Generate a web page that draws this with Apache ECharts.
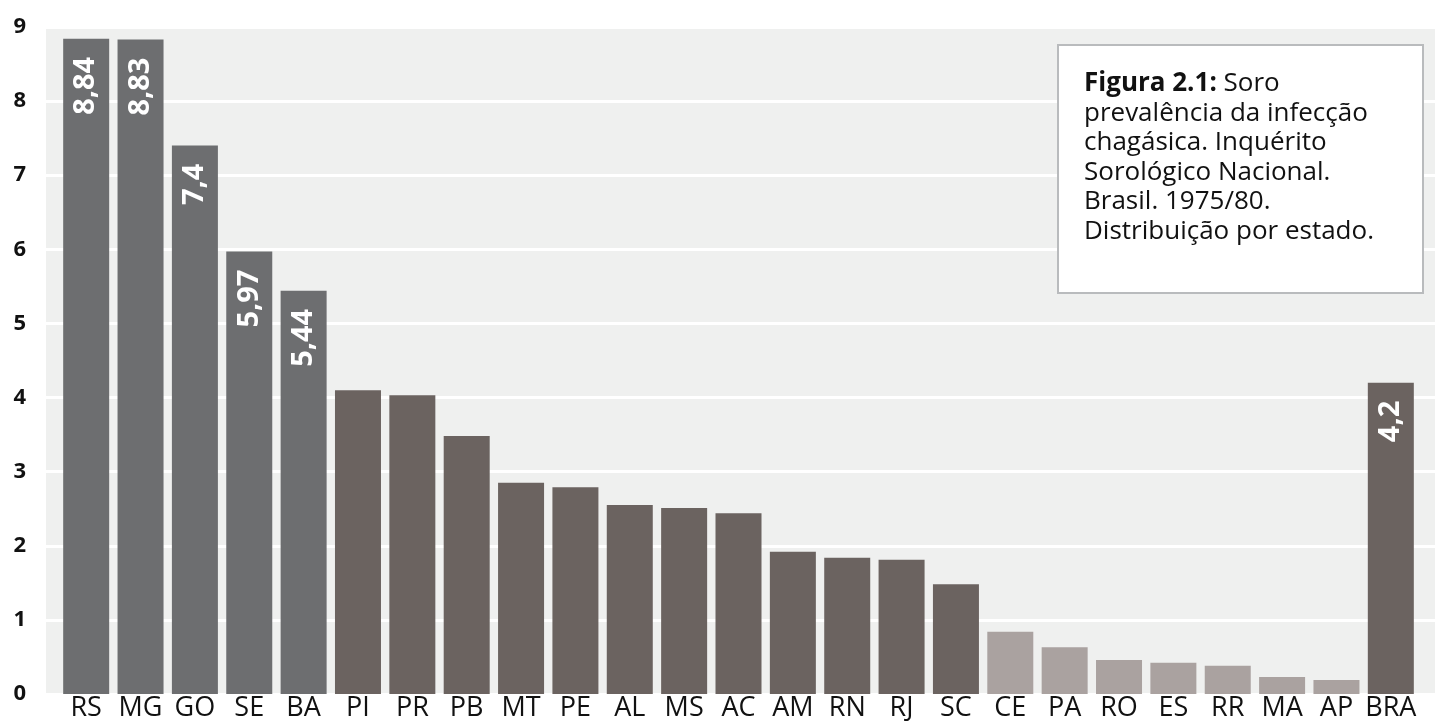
<!DOCTYPE html>
<html>
<head>
<meta charset="utf-8">
<script src="https://cdn.jsdelivr.net/npm/echarts@6/dist/echarts.min.js"></script>
<style>
html,body{margin:0;padding:0;background:#fff;}
#chart{width:1435px;height:726px;}
</style>
</head>
<body>
<div id="chart"></div>
<script>
// ---- data ----
const categories = ['RS','MG','GO','SE','BA','PI','PR','PB','MT','PE','AL','MS','AC','AM','RN','RJ','SC','CE','PA','RO','ES','RR','MA','AP','BRA'];
const values = [8.84,8.83,7.4,5.97,5.44,4.10,4.03,3.48,2.85,2.79,2.55,2.51,2.44,1.92,1.84,1.81,1.48,0.84,0.63,0.46,0.42,0.38,0.23,0.19,4.2];
const highGroup = ['RS','MG','GO','SE','BA'];
const lowGroup = ['CE','PA','RO','ES','RR','MA','AP'];
const labeledCategories = ['RS','MG','GO','SE','BA','BRA'];
const yTicks = [0,1,2,3,4,5,6,7,8,9];
const captionBold = 'Figura 2.1:';
const captionLines = [' Soro','prevalência da infecção','chagásica. Inquérito','Sorológico Nacional.','Brasil. 1975/80.','Distribuição por estado.'];

const FONT = '"Open Sans", "Noto Sans", sans-serif';
const colorHigh = '#6d6e70', colorMid = '#6b6360', colorLow = '#aaa2a0';

const seriesData = categories.map((c, i) => ({
  value: values[i],
  itemStyle: { color: highGroup.includes(c) ? colorHigh : (lowGroup.includes(c) ? colorLow : colorMid) },
  label: { show: labeledCategories.includes(c) }
}));

const captionRich = '{b|' + captionBold + '}' + captionLines.map(l => '{n|' + l + '}').join('\n');

const chart = echarts.init(document.getElementById('chart'));
chart.setOption({
  animation: false,
  grid: [
    { left: 59, right: 17, top: 27, bottom: 32 },
    { left: 46, right: 0, top: 27, bottom: 32, show: true, backgroundColor: '#eff0ef', borderWidth: 0 }
  ],
  xAxis: [
    { type: 'category', gridIndex: 0, data: categories,
      axisLine: { show: false }, axisTick: { show: false },
      axisLabel: { color: '#111', fontSize: 27, fontFamily: FONT, margin: 1, interval: 0 } },
    { type: 'category', gridIndex: 1, data: categories, show: false }
  ],
  yAxis: [
    { type: 'value', gridIndex: 0, min: yTicks[0], max: yTicks[yTicks.length-1], interval: 1, show: false },
    { type: 'value', gridIndex: 1, min: yTicks[0], max: yTicks[yTicks.length-1], interval: 1,
      axisLine: { show: false }, axisTick: { show: false },
      splitLine: { show: true, lineStyle: { color: '#ffffff', width: 3 } },
      axisLabel: { color: '#111', fontSize: 22, fontWeight: 'bold', fontFamily: FONT, margin: 20,
        formatter: v => yTicks.includes(v) ? String(v) : '' } }
  ],
  series: [{
    type: 'bar', xAxisIndex: 0, yAxisIndex: 0, barWidth: 46, z: 3,
    data: seriesData,
    label: {
      position: 'insideTop', rotate: 90, align: 'right', verticalAlign: 'middle', distance: 18,
      color: '#fff', fontSize: 29, fontWeight: 'bold', fontFamily: FONT,
      formatter: p => String(p.value).replace('.', ',')
    }
  }],
  graphic: [{
    type: 'group', left: 1057, top: 44, z: 100,
    children: [
      { type: 'rect', z: 100, shape: { x: 0, y: 0, width: 365, height: 248 },
        style: { fill: '#ffffff', stroke: '#b9bbbd', lineWidth: 2 } },
      { type: 'text', z: 101, x: 26, y: 24,
        style: { text: captionRich,
          font: '26px ' + FONT, fill: '#111', lineHeight: 29.5,
          rich: { b: { fontWeight: 'bold', fontSize: 26, fontFamily: FONT, fill: '#111', lineHeight: 29.5 },
                  n: { fontSize: 26, fontFamily: FONT, fill: '#111', lineHeight: 29.5 } } } }
    ]
  }]
});
</script>
</body>
</html>
